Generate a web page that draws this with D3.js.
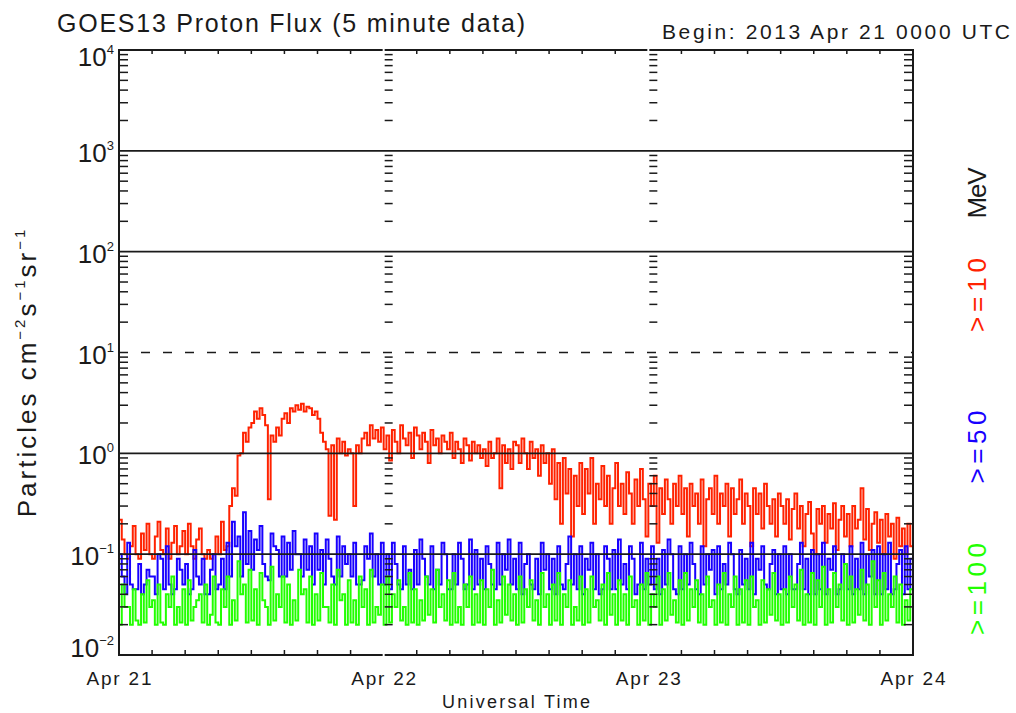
<!DOCTYPE html>
<html>
<head>
<meta charset="utf-8">
<title>GOES13 Proton Flux</title>
<script src="https://d3js.org/d3.v7.min.js"></script>
<style>
body{margin:0;background:#fff;}
text{font-family:"Liberation Sans",Arial,sans-serif;fill:#1a1a1a;}
</style>
</head>
<body>
<div id="chart"></div>
<script>
// 15 minute samples, starting 2013 Apr 21 0000 UTC
// one row = 3 hours
var stepMinutes = 15;

var flux10 = [
  0.22, 0.14, 0.10, 0.09, 0.12, 0.19, 0.10, 0.09, 0.16, 0.11, 0.20, 0.10,
  0.09, 0.15, 0.21, 0.11, 0.10, 0.18, 0.09, 0.13, 0.19, 0.10, 0.12, 0.17,
  0.10, 0.20, 0.12, 0.09, 0.14, 0.18, 0.10, 0.09, 0.11, 0.09, 0.10, 0.15,
  0.10, 0.21, 0.11, 0.12, 0.30, 0.45, 0.38, 0.95, 1.0, 1.6, 1.3, 1.8,
  2.0, 2.6, 2.2, 2.8, 2.4, 1.9, 0.35, 1.5, 1.3, 1.8, 1.5, 2.2,
  2.5, 2.0, 2.8, 2.6, 3.0, 2.7, 3.1, 2.6, 2.9, 2.8, 2.4, 2.6,
  2.2, 1.6, 1.3, 1.1, 0.24, 1.2, 0.22, 1.4, 1.0, 1.3, 0.95, 1.1,
  1.0, 0.30, 1.2, 1.0, 1.4, 1.6, 1.2, 1.9, 1.4, 1.7, 1.3, 1.8,
  1.1, 1.5, 0.85, 1.7, 1.3, 1.0, 1.9, 1.4, 1.2, 1.6, 0.9, 1.8,
  1.5, 1.1, 1.6, 1.3, 0.8, 1.7, 1.2, 1.4, 1.0, 1.5, 1.3, 1.1,
  1.6, 0.9, 1.3, 1.1, 0.8, 1.4, 1.2, 0.85, 1.3, 1.0, 1.2, 0.9,
  1.1, 0.75, 1.3, 0.9, 1.0, 1.4, 0.45, 1.2, 0.8, 1.1, 0.7, 1.3,
  1.2, 0.8, 1.4, 1.0, 0.7, 1.3, 0.9, 1.1, 0.6, 1.2, 0.8, 1.0,
  0.5, 1.1, 0.35, 0.8, 0.2, 0.9, 0.4, 0.7, 0.15, 0.6, 0.3, 0.8,
  0.25, 0.7, 0.4, 0.9, 0.2, 0.5, 0.35, 0.75, 0.3, 0.6, 0.2, 0.45,
  0.8, 0.3, 0.5, 0.25, 0.65, 0.4, 0.2, 0.55, 0.3, 0.7, 0.35, 0.15,
  0.5, 0.3, 0.6, 0.13, 0.45, 0.25, 0.55, 0.35, 0.2, 0.5, 0.3, 0.6,
  0.25, 0.45, 0.15, 0.5, 0.3, 0.4, 0.2, 0.55, 0.12, 0.35, 0.45, 0.25,
  0.6, 0.2, 0.4, 0.3, 0.5, 0.15, 0.45, 0.25, 0.35, 0.55, 0.2, 0.4,
  0.3, 0.12, 0.45, 0.25, 0.4, 0.18, 0.5, 0.3, 0.2, 0.35, 0.15, 0.4,
  0.3, 0.2, 0.35, 0.14, 0.28, 0.4, 0.18, 0.3, 0.12, 0.25, 0.33, 0.16,
  0.10, 0.28, 0.2, 0.3, 0.13, 0.25, 0.18, 0.32, 0.11, 0.22, 0.3, 0.15,
  0.25, 0.12, 0.3, 0.18, 0.22, 0.45, 0.14, 0.28, 0.11, 0.2, 0.26, 0.13,
  0.22, 0.10, 0.25, 0.15, 0.2, 0.09, 0.23, 0.12, 0.18, 0.10, 0.2, 0.12
];

var flux50 = [
  0.1, 0.06, 0.04, 0.13, 0.05, 0.045, 0.045, 0.08, 0.04, 0.05, 0.07, 0.06,
  0.06, 0.04, 0.1, 0.09, 0.045, 0.12, 0.05, 0.04, 0.045, 0.09, 0.07, 0.05,
  0.08, 0.04, 0.045, 0.11, 0.06, 0.05, 0.09, 0.04, 0.04, 0.07, 0.1, 0.045,
  0.05, 0.09, 0.045, 0.13, 0.06, 0.21, 0.12, 0.15, 0.06, 0.26, 0.08, 0.17,
  0.07, 0.14, 0.11, 0.19, 0.08, 0.06, 0.055, 0.16, 0.12, 0.11, 0.06, 0.15,
  0.06, 0.13, 0.07, 0.17, 0.1, 0.1, 0.06, 0.14, 0.07, 0.12, 0.05, 0.16,
  0.07, 0.11, 0.05, 0.14, 0.09, 0.06, 0.05, 0.15, 0.06, 0.12, 0.08, 0.1,
  0.06, 0.13, 0.05, 0.05, 0.055, 0.12, 0.09, 0.16, 0.06, 0.1, 0.05, 0.13,
  0.05, 0.1, 0.045, 0.13, 0.08, 0.05, 0.045, 0.12, 0.05, 0.07, 0.045, 0.11,
  0.05, 0.14, 0.09, 0.06, 0.05, 0.12, 0.045, 0.07, 0.05, 0.13, 0.1, 0.045,
  0.045, 0.1, 0.05, 0.13, 0.09, 0.045, 0.05, 0.14, 0.045, 0.11, 0.05, 0.09,
  0.045, 0.12, 0.08, 0.05, 0.045, 0.13, 0.05, 0.1, 0.07, 0.14, 0.05, 0.09,
  0.045, 0.13, 0.04, 0.08, 0.1, 0.05, 0.045, 0.09, 0.04, 0.13, 0.07, 0.1,
  0.045, 0.09, 0.04, 0.12, 0.05, 0.045, 0.08, 0.15, 0.05, 0.1, 0.045, 0.12,
  0.04, 0.09, 0.07, 0.13, 0.045, 0.1, 0.04, 0.045, 0.12, 0.09, 0.045, 0.11,
  0.045, 0.14, 0.05, 0.08, 0.045, 0.12, 0.09, 0.04, 0.05, 0.13, 0.045, 0.09,
  0.05, 0.12, 0.045, 0.09, 0.04, 0.11, 0.05, 0.14, 0.1, 0.045, 0.04, 0.12,
  0.045, 0.1, 0.05, 0.13, 0.08, 0.045, 0.04, 0.12, 0.05, 0.1, 0.07, 0.11,
  0.04, 0.12, 0.045, 0.08, 0.05, 0.13, 0.1, 0.045, 0.04, 0.11, 0.05, 0.09,
  0.045, 0.13, 0.04, 0.09, 0.07, 0.12, 0.05, 0.045, 0.08, 0.11, 0.04, 0.1,
  0.045, 0.12, 0.04, 0.1, 0.045, 0.045, 0.08, 0.13, 0.045, 0.09, 0.04, 0.11,
  0.04, 0.1, 0.045, 0.13, 0.04, 0.09, 0.07, 0.12, 0.04, 0.045, 0.1, 0.08,
  0.045, 0.12, 0.04, 0.09, 0.045, 0.13, 0.04, 0.1, 0.06, 0.11, 0.04, 0.12,
  0.04, 0.1, 0.045, 0.13, 0.04, 0.045, 0.08, 0.11, 0.04, 0.12, 0.045, 0.09
];

var flux100 = [
  0.02, 0.05, 0.03, 0.03, 0.02, 0.045, 0.022, 0.02, 0.04, 0.021, 0.055, 0.03,
  0.035, 0.02, 0.05, 0.021, 0.02, 0.04, 0.03, 0.06, 0.02, 0.03, 0.021, 0.045,
  0.02, 0.055, 0.022, 0.03, 0.035, 0.04, 0.021, 0.05, 0.02, 0.025, 0.06, 0.021,
  0.02, 0.045, 0.03, 0.06, 0.02, 0.035, 0.022, 0.085, 0.04, 0.05, 0.021, 0.07,
  0.022, 0.045, 0.02, 0.065, 0.035, 0.03, 0.02, 0.075, 0.022, 0.04, 0.03, 0.06,
  0.021, 0.05, 0.02, 0.035, 0.022, 0.07, 0.04, 0.045, 0.021, 0.06, 0.02, 0.04,
  0.022, 0.065, 0.03, 0.03, 0.021, 0.05, 0.02, 0.07, 0.035, 0.04, 0.02, 0.055,
  0.021, 0.035, 0.02, 0.06, 0.03, 0.045, 0.02, 0.07, 0.021, 0.03, 0.025, 0.05,
  0.02, 0.06, 0.021, 0.04, 0.03, 0.055, 0.022, 0.03, 0.02, 0.065, 0.021, 0.045,
  0.02, 0.035, 0.022, 0.06, 0.025, 0.045, 0.021, 0.07, 0.03, 0.04, 0.022, 0.055,
  0.02, 0.065, 0.021, 0.03, 0.02, 0.05, 0.03, 0.06, 0.02, 0.04, 0.021, 0.055,
  0.02, 0.045, 0.03, 0.07, 0.02, 0.035, 0.021, 0.06, 0.025, 0.05, 0.022, 0.04,
  0.02, 0.06, 0.021, 0.045, 0.03, 0.055, 0.022, 0.035, 0.02, 0.065, 0.03, 0.04,
  0.02, 0.05, 0.022, 0.065, 0.02, 0.04, 0.03, 0.055, 0.02, 0.03, 0.022, 0.06,
  0.02, 0.045, 0.021, 0.06, 0.03, 0.035, 0.022, 0.05, 0.02, 0.065, 0.025, 0.04,
  0.02, 0.055, 0.022, 0.04, 0.02, 0.06, 0.03, 0.035, 0.02, 0.05, 0.022, 0.065,
  0.02, 0.04, 0.03, 0.06, 0.02, 0.045, 0.022, 0.065, 0.025, 0.035, 0.021, 0.055,
  0.02, 0.065, 0.022, 0.045, 0.03, 0.055, 0.021, 0.04, 0.02, 0.06, 0.03, 0.035,
  0.02, 0.05, 0.021, 0.065, 0.02, 0.04, 0.03, 0.06, 0.02, 0.045, 0.021, 0.055,
  0.02, 0.06, 0.03, 0.035, 0.02, 0.055, 0.021, 0.045, 0.025, 0.065, 0.022, 0.04,
  0.02, 0.045, 0.021, 0.06, 0.03, 0.05, 0.022, 0.07, 0.02, 0.04, 0.021, 0.065,
  0.02, 0.055, 0.03, 0.075, 0.02, 0.045, 0.021, 0.065, 0.03, 0.05, 0.022, 0.08,
  0.02, 0.06, 0.021, 0.045, 0.025, 0.07, 0.022, 0.05, 0.02, 0.085, 0.03, 0.055,
  0.02, 0.065, 0.022, 0.04, 0.03, 0.06, 0.021, 0.05, 0.02, 0.035, 0.022, 0.045
];

var seriesLabels = [">=10", ">=50", ">=100"];
var seriesColors = ["#ff2200", "#1800ff", "#22ff00"];
var decades = [-2, -1, 0, 1, 2, 3, 4];
var dayLabels = ["Apr 21", "Apr 22", "Apr 23", "Apr 24"];

var W = 1016, H = 713;
var plot = {left: 119, right: 913, top: 50, bottom: 655};

var svg = d3.select("#chart").append("svg")
    .attr("width", W).attr("height", H);

var x = d3.scaleLinear().domain([0, 72]).range([plot.left, plot.right]);
var y = d3.scaleLog().domain([1e-2, 1e4]).range([plot.bottom, plot.top]);

svg.append("clipPath").attr("id", "clip")
   .append("rect")
   .attr("x", plot.left).attr("y", plot.top)
   .attr("width", plot.right - plot.left).attr("height", plot.bottom - plot.top);

// data lines
var line = d3.line()
    .x(function(d) { return x(d.h); })
    .y(function(d) { return y(d.v); })
    .curve(d3.curveStepAfter);

[flux10, flux50, flux100].forEach(function(arr, k) {
  var pts = arr.map(function(v, i) { return {h: i * stepMinutes / 60, v: v}; });
  pts.push({h: 72, v: arr[arr.length - 1]});
  svg.append("path")
     .datum(pts)
     .attr("clip-path", "url(#clip)")
     .attr("d", line)
     .attr("fill", "none")
     .attr("stroke", seriesColors[k])
     .attr("stroke-width", 2);
});

// horizontal grid lines at decades (dashed at 10 pfu)
var ink = "#1a1a1a";
decades.slice(1, -1).forEach(function(e) {
  svg.append("line")
     .attr("x1", plot.left).attr("x2", plot.right)
     .attr("y1", y(Math.pow(10, e))).attr("y2", y(Math.pow(10, e)))
     .attr("stroke", ink).attr("stroke-width", 1.7)
     .attr("stroke-dasharray", e === 1 ? "9,13" : null);
});

// frame: one box per day
for (var d = 0; d < 3; d++) {
  var xa = x(d * 24) + (d > 0 ? 1 : 0), xb = x(d * 24 + 24) - (d < 2 ? 1 : 0);
  [plot.top, plot.bottom].forEach(function(yy) {
    svg.append("line").attr("x1", xa).attr("x2", xb)
       .attr("y1", yy).attr("y2", yy)
       .attr("stroke", ink).attr("stroke-width", 2);
  });
}
[plot.left, plot.right].forEach(function(xx) {
  svg.append("line").attr("x1", xx).attr("x2", xx)
     .attr("y1", plot.top - 1).attr("y2", plot.bottom + 1)
     .attr("stroke", ink).attr("stroke-width", 2);
});

// 3-hour ticks on top and bottom
for (var h = 3; h < 72; h += 3) {
  if (h % 24 === 0) continue;
  svg.append("line").attr("x1", x(h)).attr("x2", x(h))
     .attr("y1", plot.top).attr("y2", plot.top + 4)
     .attr("stroke", ink).attr("stroke-width", 1.5);
  svg.append("line").attr("x1", x(h)).attr("x2", x(h))
     .attr("y1", plot.bottom).attr("y2", plot.bottom - 5)
     .attr("stroke", ink).attr("stroke-width", 1.5);
}

// log minor ticks: left, right and at day boundaries
decades.slice(0, -1).forEach(function(e) {
  for (var m = 2; m <= 9; m++) {
    var yy = y(m * Math.pow(10, e));
    [[plot.left, plot.left + 9], [plot.right, plot.right - 9],
     [x(24) + 1, x(24) + 9], [x(48) + 1, x(48) + 9]].forEach(function(s) {
      svg.append("line").attr("x1", s[0]).attr("x2", s[1])
         .attr("y1", yy).attr("y2", yy)
         .attr("stroke", ink).attr("stroke-width", 1.5);
    });
  }
});

// y tick labels 10^n
decades.forEach(function(e, i) {
  var off = i === 0 ? 2 : (i === decades.length - 1 ? 16 : 11);
  var t = svg.append("text")
     .attr("x", 114).attr("y", y(Math.pow(10, e)) + off)
     .attr("text-anchor", "end");
  t.append("tspan").attr("font-size", 26).text("10");
  t.append("tspan").attr("font-size", 13).attr("dy", -12)
   .text(e < 0 ? "\u2212" + (-e) : String(e));
});

// x tick labels
dayLabels.forEach(function(lab, i) {
  svg.append("text")
     .attr("x", x(i * 24)).attr("y", 685)
     .attr("text-anchor", "middle")
     .attr("font-size", 19)
     .attr("textLength", 65)
     .text(lab);
});

svg.append("text")
   .attr("x", (plot.left + plot.right) / 2).attr("y", 708)
   .attr("text-anchor", "middle").attr("font-size", 18)
   .attr("textLength", 148)
   .text("Universal Time");

svg.append("text")
   .attr("x", 57).attr("y", 32).attr("font-size", 25)
   .attr("textLength", 468)
   .text("GOES13 Proton Flux (5 minute data)");

svg.append("text")
   .attr("x", 662).attr("y", 39).attr("font-size", 21)
   .attr("textLength", 348)
   .text("Begin: 2013 Apr 21 0000 UTC");

// y axis title
var yt = svg.append("text")
   .attr("transform", "translate(36,372) rotate(-90)")
   .attr("text-anchor", "middle").attr("font-size", 26)
   .attr("letter-spacing", 3);
yt.append("tspan").text("Particles cm");
yt.append("tspan").attr("font-size", 15).attr("dy", -11).text("\u22122");
yt.append("tspan").attr("dy", 11).text("s");
yt.append("tspan").attr("font-size", 15).attr("dy", -11).text("\u22121");
yt.append("tspan").attr("dy", 11).text("sr");
yt.append("tspan").attr("font-size", 15).attr("dy", -11).text("\u22121");

// right side energy labels
var rightLabels = [
  {text: "MeV", color: ink, y: 193, len: 51},
  {text: seriesLabels[0], color: seriesColors[0], y: 295, len: 74},
  {text: seriesLabels[1], color: seriesColors[1], y: 447, len: 73},
  {text: seriesLabels[2], color: seriesColors[2], y: 589, len: 92}
];
rightLabels.forEach(function(r) {
  svg.append("text")
     .attr("transform", "translate(986," + r.y + ") rotate(-90)")
     .attr("text-anchor", "middle").attr("font-size", 26)
     .attr("textLength", r.len)
     .style("fill", r.color)
     .text(r.text);
});
</script>
</body>
</html>
